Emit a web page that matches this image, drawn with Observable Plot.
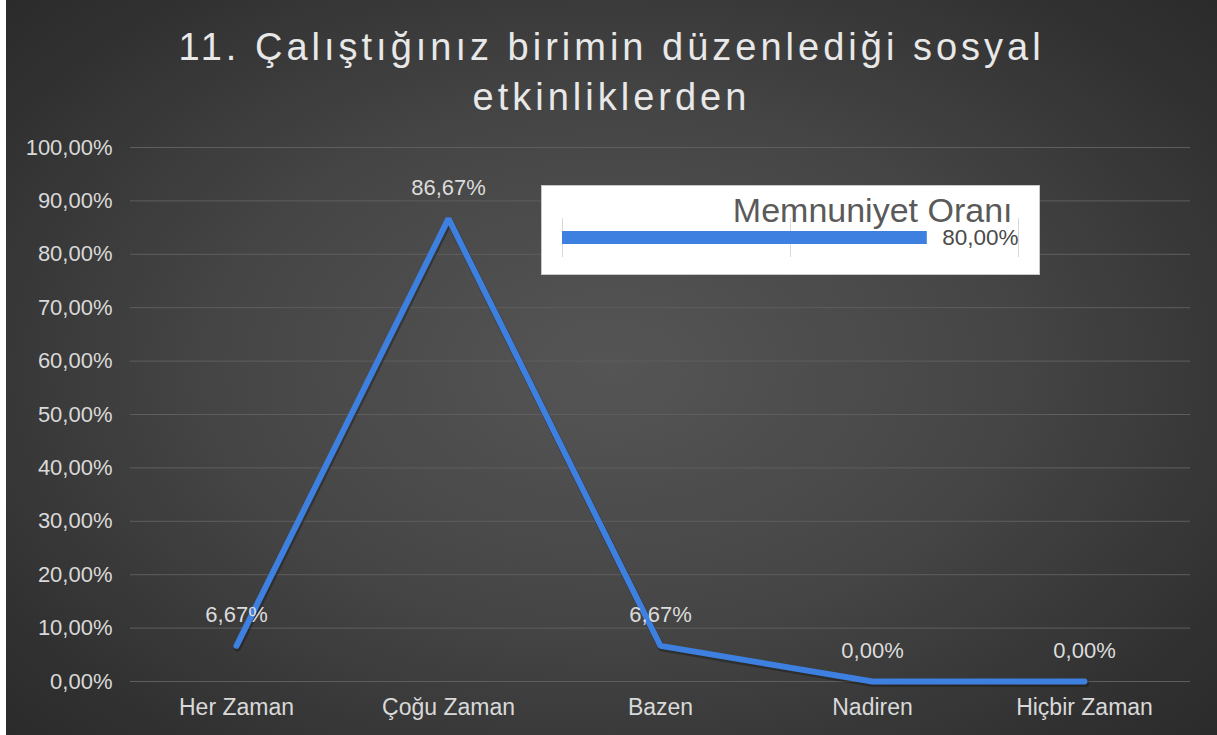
<!DOCTYPE html>
<html>
<head>
<meta charset="utf-8">
<script src="https://cdn.jsdelivr.net/npm/d3@7"></script>
<script src="https://cdn.jsdelivr.net/npm/@observablehq/plot@0.6"></script>
<style>
  html, body { margin: 0; padding: 0; background: #fff; }
  #wrap {
    position: absolute; left: 6px; top: 0; width: 1211px; height: 735px; overflow: hidden;
    background: radial-gradient(ellipse 70% 75% at 50% 50%, #555555 0%, #464646 45%, #303030 85%, #2a2a2a 100%);
    font-family: "Liberation Sans", Arial, sans-serif;
  }
  #title {
    position: absolute; left: 0; width: 1211px; top: 22px; text-align: center;
    color: #e8e8e8; font-size: 38px; line-height: 50px; letter-spacing: 4px;
  }
  #main { position: absolute; left: 0; top: 125px; }
  #inset { position: absolute; left: 535px; top: 185px; border: 1px solid #c8c8c8; background: #fff; line-height: 0; }
</style>
</head>
<body>
<div id="wrap">
  <div id="title"></div>
  <div id="main"></div>
  <div id="inset"></div>
</div>
<script>
const titleLines = ["11. Çalıştığınız birimin düzenlediği sosyal", "etkinliklerden"];
const categories = ["Her Zaman", "Çoğu Zaman", "Bazen", "Nadiren", "Hiçbir Zaman"];
const values = [0.0667, 0.8667, 0.0667, 0, 0];
const labels = ["6,67%", "86,67%", "6,67%", "0,00%", "0,00%"];
const yTicks = [0, 0.1, 0.2, 0.3, 0.4, 0.5, 0.6, 0.7, 0.8, 0.9, 1.0];
const insetTitle = "Memnuniyet Oranı";
const insetValue = 0.80;
const insetLabel = "80,00%";
const insetTicks = [0, 0.5, 1];

const fmt = d => (d * 100).toFixed(2).replace(".", ",") + "%";
document.getElementById("title").innerHTML = titleLines.join("<br>");

const data = categories.map((c, i) => ({cat: c, v: values[i], label: labels[i]}));
const blue = "#3d80e0";
const font = "'Liberation Sans', Arial, sans-serif";

const main = Plot.plot({
  width: 1211,
  height: 610,
  marginLeft: 124,
  marginRight: 27,
  marginTop: 22,
  marginBottom: 54,
  style: {background: "transparent", color: "#d9d9d9", fontFamily: font},
  x: {type: "point", domain: categories, padding: 0.5},
  y: {domain: [0, 1]},
  marks: [
    Plot.gridY(yTicks, {stroke: "#5e5e5e", strokeOpacity: 1, strokeWidth: 1}),
    Plot.axisY(yTicks, {tickFormat: fmt, tickSize: 0, tickPadding: 18, fontSize: 22, fill: "#d9d9d9", label: null}),
    Plot.axisX({tickSize: 0, tickPadding: 17, fontSize: 23, fill: "#d9d9d9", label: null}),
    Plot.line(data, {x: "cat", y: "v", stroke: "#151515", strokeOpacity: 0.4, strokeWidth: 7, dy: 2, dx: 1}),
    Plot.line(data, {x: "cat", y: "v", stroke: blue, strokeWidth: 6, strokeLinejoin: "miter"}),
    Plot.text(data, {x: "cat", y: "v", text: "label", dy: -31, fontSize: 22, fill: "#dcdcdc"})
  ]
});
document.getElementById("main").appendChild(main);

const inset = Plot.plot({
  width: 497,
  height: 88,
  marginLeft: 20,
  marginRight: 21,
  marginTop: 32,
  marginBottom: 17,
  style: {background: "transparent", fontFamily: font},
  x: {domain: [0, 1], axis: null},
  y: {type: "band", domain: [insetTitle], padding: 0, axis: null},
  marks: [
    Plot.ruleX(insetTicks, {stroke: "#d9d9d9", strokeWidth: 1}),
    Plot.barX([insetValue], {x: d => d, y: () => insetTitle, fill: blue, insetTop: 13, insetBottom: 13}),
    Plot.text([insetLabel], {x: () => insetValue, y: () => insetTitle, text: d => d, textAnchor: "start", dx: 15, fontSize: 22.5, fill: "#4a4a4a"}),
    Plot.text([insetTitle], {frameAnchor: "top-right", text: d => d, lineAnchor: "middle", dy: -7.5, dx: -6, fontSize: 34, fill: "#5a5a5a"})
  ]
});
document.getElementById("inset").appendChild(inset);
</script>
</body>
</html>
